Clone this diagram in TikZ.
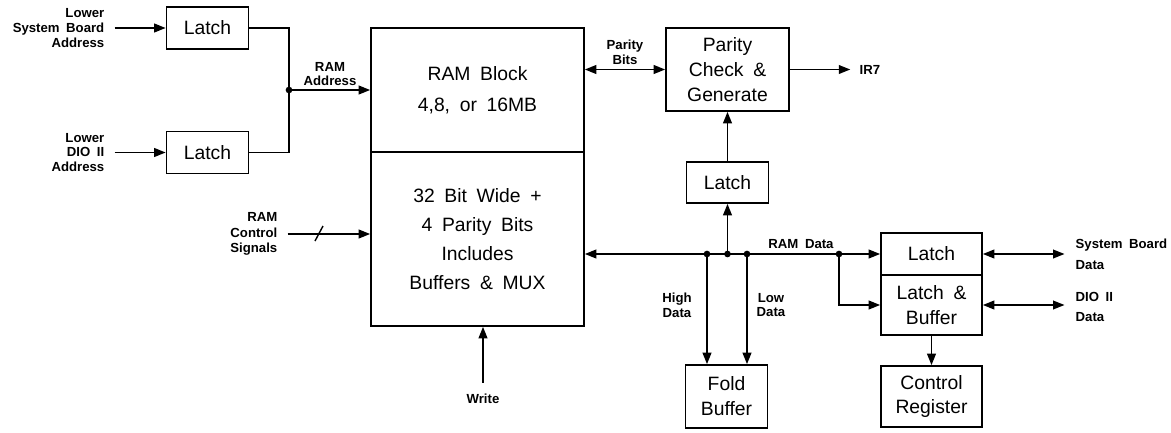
\documentclass[tikz,border=0pt]{standalone}
\usepackage{fontspec}
\setmainfont[WordSpace=1.8]{Liberation Sans}
\usetikzlibrary{arrows.meta}

\begin{document}
\begin{tikzpicture}[x=0.02cm,y=-0.02cm,line width=0.8pt,
  blk/.style={draw,line width=1pt,inner sep=0pt,align=center,font=\fontsize{11}{14.2}\selectfont},
  lbl/.style={font=\bfseries\fontsize{7.5}{8.3}\selectfont,inner sep=0pt},
  arr/.style={-{Triangle[length=6.5pt,width=5pt]}},
  biarr/.style={{Triangle[length=6.5pt,width=5pt]}-{Triangle[length=6.5pt,width=5pt]}},
  dot/.style={circle,fill,inner sep=0pt,minimum size=3.8pt}]
\def\latw{1.64cm}
\def\lath{0.84cm}
\def\outw{2.02cm}
\useasboundingbox (0,0) rectangle (1171,433);

% address side
\node[blk,minimum width=\latw,minimum height=\lath] (latsys) at (207.5,28) {Latch};
\node[blk,minimum width=\latw,minimum height=\lath] (latdio) at (207.5,152.5) {Latch};
\node[lbl,anchor=east,align=right] (insys) at (105,28) {Lower\\System Board\\Address};
\node[lbl,anchor=east,align=right] (indio) at (105,152.5) {Lower\\DIO II\\Address};
\draw[arr,shorten <=5.5pt] (insys.east) -- (latsys.west);
\draw[arr,shorten <=5.5pt] (indio.east) -- (latdio.west);

% ram block
\node[blk,minimum width=4.26cm,minimum height=2.48cm,font=\fontsize{11}{17.6}\selectfont] (ramtop) at (477.5,90) {RAM Block\\4,8, or 16MB};
\node[blk,minimum width=4.26cm,minimum height=3.48cm,font=\fontsize{11}{16.5}\selectfont] (rambot) at (477.5,239) {32 Bit Wide +\\4 Parity Bits\\Includes\\Buffers \& MUX};

\coordinate (jadr) at (289,90);
\draw (latsys.east) -| (jadr);
\draw (latdio.east) -| (jadr);
\draw[arr] (jadr) -- (ramtop.west);
\node[dot] at (jadr) {};
\node[lbl,align=center] (lbladr) at (330,74) {RAM\\Address};

\node[lbl,anchor=east,align=right,font=\bfseries\fontsize{7.5}{8.8}\selectfont] (inctl) at (278,234) {RAM\\Control\\Signals};
\draw[arr,shorten <=5.5pt] (inctl.east) -- (inctl.east -| rambot.west);
\draw (315,241) -- (323,226);

\node[lbl] (wr) at (483,399) {Write};
\draw[arr,shorten <=6pt] (wr.north) -- (wr.north |- rambot.south);

% parity
\node[blk,minimum width=2.46cm,minimum height=1.66cm] (par) at (727.5,69.5) {Parity\\Check \&\\Generate};
\draw[biarr] (par.west -| ramtop.east) -- (par.west);
\node[lbl,align=center] (lblpar) at (625,52) {Parity\\Bits};
\node[lbl,anchor=west] (ir) at (859,69.5) {IR7};
\draw[arr,shorten >=5pt] (par.east) -- (ir.west);

\node[blk,minimum width=\latw,minimum height=0.82cm] (latpar) at (727.5,182.5) {Latch};
\draw[arr] (latpar.north) -- (par.south);

% data bus
\coordinate (dhi) at (707,254);
\coordinate (dmid) at (727.5,254);
\coordinate (dlo) at (747,254);
\coordinate (dsp) at (839,254);
\node[blk,minimum width=\latw,minimum height=1.26cm] (fold) at (726.5,396.5) {Fold\\Buffer};
\draw[arr] (dsp) -- (dsp -| rambot.east);
\draw[arr] (dmid) -- (latpar.south);
\draw[arr] (dhi) -- (dhi |- fold.north);
\draw[arr] (dlo) -- (dlo |- fold.north);
\foreach \p in {dhi,dmid,dlo,dsp} \node[dot] at (\p) {};
\node[lbl] (lbldat) at (801,244) {RAM Data};
\node[lbl,align=center] (lblhi) at (677,305) {High\\Data};
\node[lbl,align=center] (lbllo) at (771,305) {Low\\Data};

% outputs
\node[blk,minimum width=\outw,minimum height=\lath] (latout) at (931.5,254) {Latch};
\node[blk,minimum width=\outw,minimum height=1.2cm] (latbuf) at (931.5,305) {Latch \&\\Buffer};
\node[blk,minimum width=\outw,minimum height=1.22cm] (ctrl) at (931.5,396.5) {Control\\Register};
\draw[arr] (dsp) -- (latout.west);
\draw[arr] (dsp) |- (latbuf.west);
\draw[arr] (latbuf.south) -- (ctrl.north);

\node[lbl,anchor=west,align=left,font=\bfseries\fontsize{7.5}{11.8}\selectfont] (outsys) at (1075,254.5) {System Board\\Data};
\node[lbl,anchor=west,align=left,font=\bfseries\fontsize{7.5}{11.3}\selectfont] (outdio) at (1075,307) {DIO II\\Data};
\draw[biarr,shorten >=6pt] (latout.east) -- (latout.east -| outsys.west);
\draw[biarr,shorten >=6pt] (latbuf.east) -- (latbuf.east -| outdio.west);
\end{tikzpicture}
\end{document}
